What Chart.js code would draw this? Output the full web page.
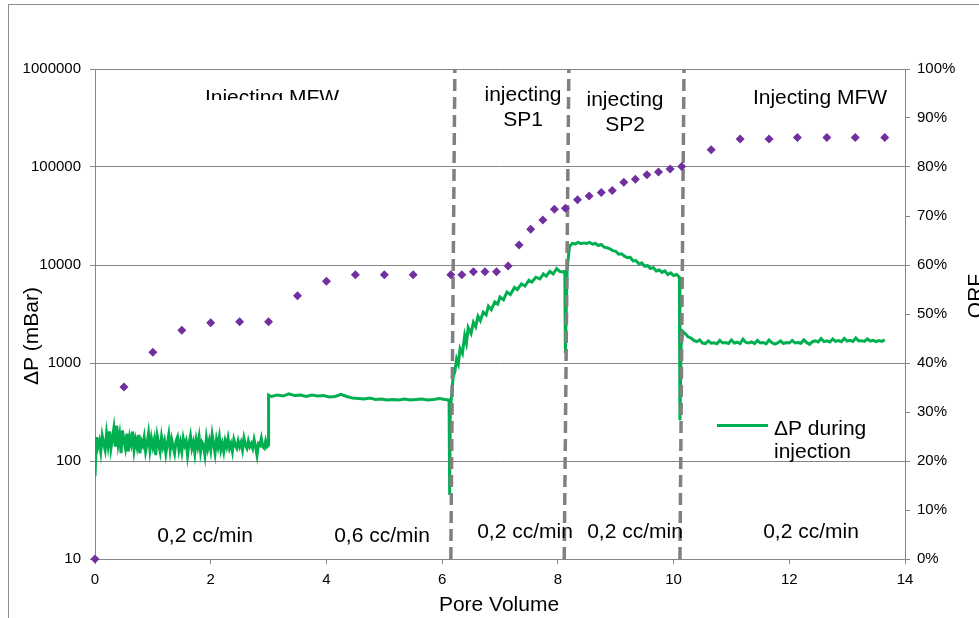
<!DOCTYPE html>
<html>
<head>
<meta charset="utf-8">
<script src="https://cdn.jsdelivr.net/npm/chart.js@4/dist/chart.umd.min.js"></script>
<style>
  html, body { margin: 0; padding: 0; background: #fff; }
  canvas { display: block; }
</style>
</head>
<body>
<canvas id="orfChart" width="979" height="618"></canvas>
<script>
// Pressure drop during injection (mBar), per injection phase
const mfwLowPv = [
  0,0.025,0.05,0.075,0.1,0.125,0.15,0.175,0.2,0.225,
  0.25,0.275,0.3,0.325,0.35,0.375,0.4,0.425,0.45,0.475,
  0.5,0.525,0.55,0.575,0.6,0.625,0.65,0.675,0.7,0.725,
  0.75,0.775,0.8,0.825,0.85,0.875,0.9,0.925,0.95,0.975,
  1.0,1.025,1.05,1.075,1.1,1.125,1.15,1.175,1.2,1.225,
  1.25,1.275,1.3,1.325,1.35,1.375,1.4,1.425,1.45,1.475,
  1.5,1.525,1.55,1.575,1.6,1.625,1.65,1.675,1.7,1.725,
  1.75,1.775,1.8,1.825,1.85,1.875,1.9,1.925,1.95,1.975,
  2.0,2.025,2.05,2.075,2.1,2.125,2.15,2.175,2.2,2.225,
  2.25,2.275,2.3,2.325,2.35,2.375,2.4,2.425,2.45,2.475,
  2.5,2.525,2.55,2.575,2.6,2.625,2.65,2.675,2.7,2.725,
  2.75,2.775,2.8,2.825,2.85,2.875,2.9,2.925,2.95,2.975,
  3.0];
const mfwLowDp = [
  70,175,140,160,125,180,150,130,190,145,
  200,135,170,215,140,230,150,185,120,205,
  160,135,190,125,175,150,200,130,165,140,
  185,120,160,145,175,125,150,190,130,170,
  140,165,115,180,150,125,175,140,160,120,
  150,185,130,165,140,120,160,175,130,155,
  125,170,145,160,115,150,180,135,155,120,
  165,140,175,125,155,145,115,170,135,160,
  130,185,150,120,165,140,175,130,150,125,
  160,140,170,135,150,125,165,145,135,160,
  140,155,130,170,145,135,160,140,150,135,
  165,140,115,150,145,170,140,135,160,140,
  145];

const mfwHighPv = [3.0,3.05,3.15,3.25,3.35,3.45,3.55,3.65,3.75,3.85,3.95,4.05,4.15,4.25,4.35,4.45,4.55,4.65,4.75,4.85,4.95,5.05,5.15,5.25,5.35,5.45,5.55,5.65,5.75,5.85,5.95,6.05,6.1,6.12,6.13];
const mfwHighDp = [470,455,470,460,485,465,470,455,470,460,465,450,455,480,455,440,435,430,440,425,430,420,425,420,430,420,425,430,420,425,435,425,420,420,45];

const sp1Pv = [6.14,6.16,6.19,6.22,6.25,6.28,6.31,6.35,6.39,6.42,6.45,6.5,6.54,6.58,6.62,6.66,6.71,6.76,6.8,6.85,6.91,6.96,7.0,7.06,7.12,7.18,7.25,7.3,7.37,7.43,7.5,7.55,7.62,7.69,7.75,7.8,7.86,7.92,7.98,8.03,8.08,8.12,8.13];
const sp1Dp = [300,450,720,820,1100,980,1400,1250,1900,1600,2300,2000,2600,2350,3000,2700,3300,3100,3800,3500,4200,4000,4700,4400,5300,5000,5900,5600,6400,6100,7000,6700,7500,7200,8100,7700,8600,8100,9200,8600,8500,8600,1260];

const sp2Pv = [8.16,8.2,8.25,8.3,8.35,8.4,8.45,8.5,8.55,8.6,8.65,8.7,8.75,8.8,8.85,8.9,8.95,9.0,9.05,9.1,9.15,9.2,9.25,9.3,9.35,9.4,9.45,9.5,9.55,9.6,9.65,9.7,9.75,9.8,9.85,9.9,9.95,10.0,10.05,10.1,10.11];
const sp2Dp = [9000,15500,16600,16400,17000,16500,16800,16600,17000,16300,16600,15800,16200,15200,15000,14600,14000,13800,12900,13000,12300,11900,12000,11000,11100,10300,10500,9700,9900,9200,9400,8700,8900,8400,8700,8000,8300,7800,8000,7500,260];

const mfwEndPv = [10.13,10.16,10.2,10.25,10.3,10.35,10.4,10.45,10.5,10.55,10.6,10.65,10.7,10.75,10.8,10.85,10.9,10.95,11.0,11.05,11.1,11.15,11.2,11.25,11.3,11.35,11.4,11.45,11.5,11.55,11.6,11.65,11.7,11.75,11.8,11.85,11.9,11.95,12.0,12.05,12.1,12.15,12.2,12.25,12.3,12.35,12.4,12.45,12.5,12.55,12.6,12.65,12.7,12.75,12.8,12.85,12.9,12.95,13.0,13.05,13.1,13.15,13.2,13.25,13.3,13.35,13.4,13.45,13.5,13.55,13.6,13.65];
const mfwEndDp = [1500,2100,2000,1850,1800,1700,1650,1720,1600,1580,1680,1590,1610,1570,1700,1600,1620,1580,1720,1600,1630,1580,1750,1620,1600,1640,1580,1700,1600,1620,1570,1720,1610,1560,1600,1680,1580,1620,1600,1700,1600,1620,1590,1720,1620,1550,1650,1680,1640,1780,1650,1680,1640,1760,1660,1690,1650,1780,1670,1700,1660,1800,1680,1690,1660,1760,1670,1700,1650,1690,1660,1720];

// Oil recovery factor (%) points
const orfPv = [0,0.5,1.0,1.5,2.0,2.5,3.0,3.5,4.0,4.5,5.0,5.5,6.15,6.34,6.54,6.74,6.94,7.14,7.33,7.53,7.74,7.94,8.13,8.34,8.54,8.75,8.94,9.14,9.34,9.54,9.74,9.94,10.14,10.65,11.15,11.65,12.14,12.65,13.14,13.65];
const orfPct = [0,35.1,42.2,46.7,48.2,48.4,48.4,53.7,56.7,58.0,58.0,58.0,58.0,58.0,58.6,58.6,58.6,59.8,64.1,67.3,69.2,71.4,71.6,73.3,74.1,74.8,75.2,76.9,77.5,78.4,79.0,79.6,80.1,83.5,85.7,85.7,86.0,86.0,86.0,86.0];

// Phase change markers (dashed lines), bottom and top pore volume
const breakBottomPv = [6.15, 8.11, 10.11];
const breakTopPv = [6.22, 8.19, 10.18];

// Tick values
const dpTicks = [10, 100, 1000, 10000, 100000, 1000000];
const pvTicks = [0, 2, 4, 6, 8, 10, 12, 14];
const orfTicks = [0, 10, 20, 30, 40, 50, 60, 70, 80, 90, 100];

const FONT = "'Liberation Sans', Arial, sans-serif";
const GRID = '#868686';
const GREEN = '#00B050';
const PURPLE = '#7030A0';

function toPoints(xs, ys) {
  return xs.map((x, i) => ({ x: x, y: ys[i] }));
}

const greenPoints = [].concat(
  toPoints(mfwLowPv, mfwLowDp),
  toPoints(mfwHighPv, mfwHighDp),
  toPoints(sp1Pv, sp1Dp),
  toPoints(sp2Pv, sp2Dp),
  toPoints(mfwEndPv, mfwEndDp)
);

const breakSets = breakBottomPv.map((x, i) => ({
  label: 'break' + i,
  data: [{ x: x, y: dpTicks[0] }, { x: breakTopPv[i], y: dpTicks[dpTicks.length - 1] }],
  showLine: true,
  borderColor: '#808080',
  borderWidth: 3.5,
  borderDash: [12, 6],
  pointRadius: 0,
  yAxisID: 'y',
  order: 2
}));

// Texts on the plot, frame, legend
const decorPlugin = {
  id: 'decor',
  beforeDraw(chart) {
    const c = chart.ctx;
    c.save();
    c.fillStyle = '#fff';
    c.fillRect(0, 0, chart.width, chart.height);
    c.strokeStyle = '#8c8c8c';
    c.lineWidth = 1;
    c.strokeRect(8.5, 4.5, 1100, 800);
    c.restore();
  },
  afterDraw(chart) {
    const c = chart.ctx;
    c.save();
    c.fillStyle = '#000';
    c.font = '21px ' + FONT;
    c.textAlign = 'center';
    c.textBaseline = 'alphabetic';

    // this label is cut off at the top of its box, as in the source
    c.save();
    c.beginPath();
    c.rect(0, 0, 450, 100);
    c.clip();
    c.fillText('Injecting MFW', 272, 104);
    c.restore();

    c.fillText('injecting', 523, 101);
    c.fillText('SP1', 523, 126);
    c.fillText('injecting', 625, 106);
    c.fillText('SP2', 625, 131);
    c.fillText('Injecting MFW', 820, 104);

    c.fillText('0,2 cc/min', 205, 542);
    c.fillText('0,6 cc/min', 382, 542);
    c.fillText('0,2 cc/min', 525, 538);
    c.fillText('0,2 cc/min', 635, 538);
    c.fillText('0,2 cc/min', 811, 538);

    // axis titles
    c.fillText('Pore Volume', 499, 611);
    c.save();
    c.translate(38, 336);
    c.rotate(-Math.PI / 2);
    c.fillText('\u0394P (mBar)', 0, 0);
    c.restore();
    c.save();
    c.translate(982, 296);
    c.rotate(-Math.PI / 2);
    c.fillText('ORF', 0, 0);
    c.restore();

    // legend
    c.strokeStyle = GREEN;
    c.lineWidth = 3;
    c.beginPath();
    c.moveTo(717, 425.5);
    c.lineTo(768, 425.5);
    c.stroke();
    c.textAlign = 'left';
    c.fillText('\u0394P during', 774, 435);
    c.fillText('injection', 774, 458);
    c.restore();
  }
};

const ctx = document.getElementById('orfChart').getContext('2d');
new Chart(ctx, {
  type: 'scatter',
  data: {
    datasets: [
      {
        label: '\u0394P during injection',
        data: greenPoints,
        showLine: true,
        borderColor: GREEN,
        borderWidth: 3,
        pointRadius: 0,
        tension: 0,
        yAxisID: 'y',
        order: 3
      },
      ...breakSets,
      {
        label: 'ORF',
        data: toPoints(orfPv, orfPct),
        showLine: false,
        pointStyle: 'rectRot',
        pointRadius: 4.5,
        pointBackgroundColor: PURPLE,
        pointBorderColor: PURPLE,
        pointBorderWidth: 0,
        yAxisID: 'y2',
        order: 1,
        clip: false
      }
    ]
  },
  options: {
    responsive: false,
    animation: false,
    layout: { padding: { top: 69, left: 0, right: 0, bottom: 0 } },
    plugins: {
      legend: { display: false },
      tooltip: { enabled: false }
    },
    scales: {
      x: {
        type: 'linear',
        min: 0,
        max: 14,
        afterBuildTicks: s => { s.ticks = pvTicks.map(v => ({ value: v })); },
        ticks: { color: '#000', font: { family: FONT, size: 15 }, padding: 7, maxRotation: 0 },
        grid: { drawOnChartArea: false, color: GRID, tickLength: 5 },
        border: { color: GRID },
        afterFit: s => { s.height = 59; }
      },
      y: {
        type: 'logarithmic',
        position: 'left',
        min: 10,
        max: 1000000,
        afterBuildTicks: s => { s.ticks = dpTicks.map(v => ({ value: v })); },
        ticks: { color: '#000', font: { family: FONT, size: 15 }, padding: 9, callback: v => String(v) },
        grid: { color: GRID, tickLength: 5 },
        border: { color: GRID },
        afterFit: s => { s.width = 95; }
      },
      y2: {
        type: 'linear',
        position: 'right',
        min: 0,
        max: 100,
        afterBuildTicks: s => { s.ticks = orfTicks.map(v => ({ value: v })); },
        ticks: { color: '#000', font: { family: FONT, size: 15 }, padding: 7, callback: v => v + '%' },
        grid: { drawOnChartArea: false, color: GRID, tickLength: 5 },
        border: { color: GRID },
        afterFit: s => { s.width = 74; }
      }
    }
  },
  plugins: [decorPlugin]
});
</script>
</body>
</html>
